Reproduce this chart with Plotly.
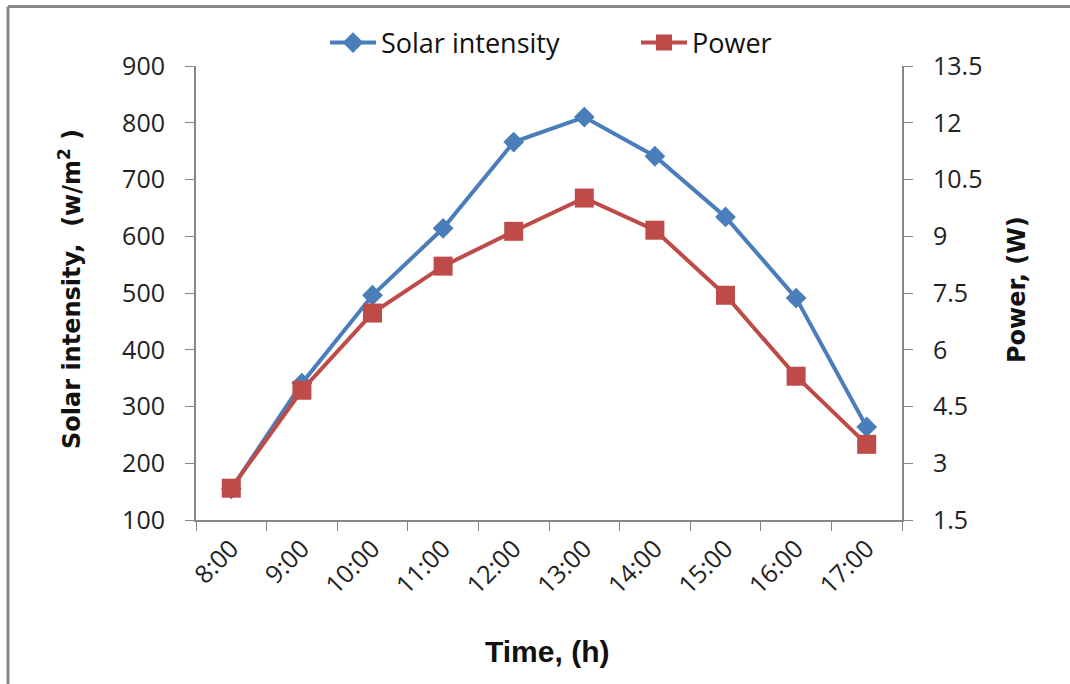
import plotly.graph_objects as go

times = ["8:00", "9:00", "10:00", "11:00", "12:00", "13:00", "14:00", "15:00", "16:00", "17:00"]
solar_intensity = [155, 341, 496, 614, 766, 810, 741, 634, 491, 264]
power = [2.34, 4.93, 6.97, 8.21, 9.13, 10.01, 9.16, 7.44, 5.3, 3.5]

BLUE = "#4a7ebb"
RED = "#be4b48"
GREY = "#878787"
TICKFONT = dict(family="Open Sans, Noto Sans, sans-serif", size=25, color="#222222")
TITLEFONT_ROT = dict(family="DejaVu Sans, Liberation Sans, Arial", size=24, color="#111111")
TITLEFONT_X = dict(family="Liberation Sans, Arial", size=30, color="#111111")

fig = go.Figure()
fig.add_trace(go.Scatter(
    x=times, y=solar_intensity, name="Solar intensity", mode="lines+markers",
    line=dict(color=BLUE, width=4), marker=dict(symbol="diamond", size=16, color=BLUE),
    legendwidth=250,
))
fig.add_trace(go.Scatter(
    x=times, y=power, name="Power", mode="lines+markers", yaxis="y2",
    line=dict(color=RED, width=4), marker=dict(symbol="square", size=19, color=RED),
))

L, R, T, B = 196, 902, 66, 520
W, H = 1070, 684
pw, ph = R - L, B - T


def px(x):
    return (x - L) / pw


def py(y):
    return (B - y) / ph


fig.update_layout(
    width=W, height=H,
    margin=dict(l=L, r=W - R, t=T, b=H - B),
    paper_bgcolor="white", plot_bgcolor="white",
    showlegend=True,
    legend=dict(orientation="h", x=px(325), xanchor="left", y=py(43), yanchor="middle",
                font=dict(family="Open Sans, Noto Sans, sans-serif", size=27, color="#111111"),
                itemwidth=46, traceorder="normal", bgcolor="rgba(0,0,0,0)", tracegroupgap=0),
    xaxis=dict(
        type="category", tickangle=-45, tickson="boundaries", ticks="outside", ticklen=9,
        tickcolor=GREY, showline=True, linecolor=GREY, linewidth=2, showgrid=False,
        tickfont=TICKFONT, range=[-0.5, 9.5], ticklabelstandoff=2,
    ),
    yaxis=dict(
        range=[100, 900], dtick=100, ticks="outside", ticklen=9, tickcolor=GREY,
        showline=True, linecolor=GREY, linewidth=2, showgrid=False, zeroline=False,
        tickfont=TICKFONT, ticklabelstandoff=15,
    ),
    yaxis2=dict(
        range=[1.5, 13.5], dtick=1.5, overlaying="y", side="right", ticks="outside", ticklen=9,
        tickcolor=GREY, showline=True, linecolor=GREY, linewidth=2, showgrid=False, zeroline=False,
        tickfont=TICKFONT, ticklabelstandoff=15,
    ),
)

# axis titles
fig.add_annotation(text="<b>Time, (h)</b>", xref="paper", yref="paper", x=px(547), y=py(651),
                   xanchor="center", yanchor="middle", showarrow=False, font=TITLEFONT_X)
fig.add_annotation(text="<b>Solar intensity,  (w/m<sup>2</sup> )</b>", xref="paper", yref="paper",
                   x=px(70), y=py(289), xanchor="center", yanchor="middle", textangle=-90,
                   showarrow=False, font=TITLEFONT_ROT)
fig.add_annotation(text="<b>Power, (W)</b>", xref="paper", yref="paper",
                   x=px(1017), y=py(290), xanchor="center", yanchor="middle", textangle=-90,
                   showarrow=False, font=TITLEFONT_ROT)

# outer chart border (left and top edges visible)
x0 = px(8)
y1 = py(6.5)
fig.add_shape(type="line", xref="paper", yref="paper", x0=x0, x1=x0, y0=-2, y1=y1,
              line=dict(color=GREY, width=3))
fig.add_shape(type="line", xref="paper", yref="paper", x0=x0, x1=3, y0=y1, y1=y1,
              line=dict(color=GREY, width=3))

fig.write_html("out.html")
